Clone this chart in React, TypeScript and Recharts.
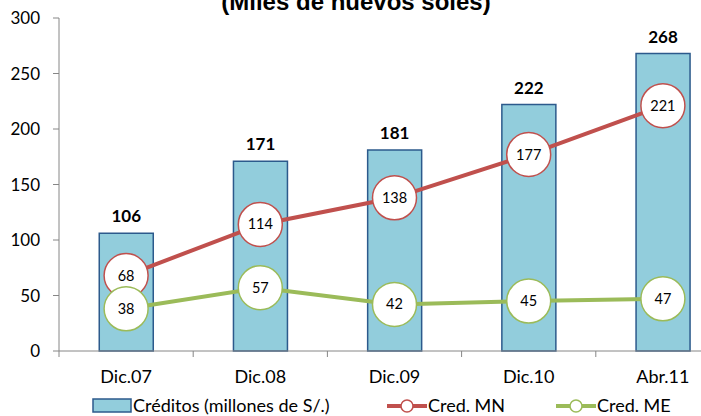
import { ComposedChart, Bar, Line, XAxis, YAxis, LabelList } from 'recharts'

const periods = ['Dic.07', 'Dic.08', 'Dic.09', 'Dic.10', 'Abr.11']
const creditos = [106, 171, 181, 222, 268]
const credMN = [68, 114, 138, 177, 221]
const credME = [38, 57, 42, 45, 47]
const yTicks = [0, 50, 100, 150, 200, 250, 300]

const data = periods.map((p, i) => ({
  period: p,
  creditos: creditos[i],
  mn: credMN[i],
  me: credME[i],
}))

const FONT = 'Lato, "Open Sans", sans-serif'
const RED = '#C0504D'
const GREEN = '#9BBB59'
const BAR_FILL = '#92CDDC'
const BAR_STROKE = '#2C5A8C'
const AXIS = '#868686'
const BAND = 134.2

function makeDot(color: string) {
  return (props: any) => {
    const { cx, cy, value, index } = props
    return (
      <g key={`d-${color}-${index}`}>
        <circle cx={cx} cy={cy} r={22} fill="#fff" stroke={color} strokeWidth={1.5} />
        <text x={cx} y={cy} dy={5} textAnchor="middle" fontSize={14.5} fontFamily={FONT} fill="#000">
          {value}
        </text>
      </g>
    )
  }
}

function CatTick({ x, y, payload, index }: any) {
  const half = BAND / 2
  return (
    <g>
      <line x1={x - half} y1={y - 8} x2={x - half} y2={y - 2} stroke={AXIS} />
      {index === periods.length - 1 && (
        <line x1={x + half} y1={y - 8} x2={x + half} y2={y - 2} stroke={AXIS} />
      )}
      <text x={x} y={y + 24} textAnchor="middle" fontSize={18} fontFamily={FONT} fill="#000">
        {payload.value}
      </text>
    </g>
  )
}

export default function App() {
  return (
    <div style={{ position: 'absolute', left: 0, top: 0, width: 701, height: 416, overflow: 'hidden', background: '#fff', fontFamily: FONT }}>
      <div style={{
        position: 'absolute', left: 0, width: 712, top: -10, textAlign: 'center', whiteSpace: 'nowrap',
        fontFamily: 'Arial, "Liberation Sans", sans-serif', fontWeight: 700, fontSize: 24, lineHeight: '24px',
      }}>
        (Miles de nuevos soles)
      </div>
      <ComposedChart
        width={740}
        height={416}
        data={data}
        margin={{ top: 18, right: 10, left: 0, bottom: 25 }}
        barCategoryGap="30%"
        style={{ position: 'absolute', left: 0, top: 0 }}
      >
        <YAxis
          domain={[0, 300]}
          ticks={yTicks}
          width={59}
          tick={{ fontSize: 17, fill: '#000', fontFamily: FONT }}
          stroke={AXIS}
          tickSize={6}
          tickMargin={13}
          interval={0}
        />
        <XAxis
          dataKey="period"
          height={40}
          stroke={AXIS}
          tickLine={false}
          tick={<CatTick />}
          interval={0}
        />
        <Bar dataKey="creditos" fill={BAR_FILL} stroke={BAR_STROKE} strokeWidth={1.5} isAnimationActive={false}>
          <LabelList dataKey="creditos" position="top" offset={11} fontSize={17} fontWeight={700} fill="#000" fontFamily={FONT} />
        </Bar>
        <Line dataKey="mn" stroke={RED} strokeWidth={4} dot={makeDot(RED)} activeDot={false} isAnimationActive={false} />
        <Line dataKey="me" stroke={GREEN} strokeWidth={4} dot={makeDot(GREEN)} activeDot={false} isAnimationActive={false} />
      </ComposedChart>
      <div style={{ position: 'absolute', top: 394, left: 0, width: 701, height: 22, fontSize: 18, lineHeight: '22px', color: '#000' }}>
        <svg width={40} height={16} style={{ position: 'absolute', left: 92, top: 4 }}>
          <rect x={1} y={1} width={38} height={13} fill={BAR_FILL} stroke={BAR_STROKE} strokeWidth={1.5} />
        </svg>
        <span style={{ position: 'absolute', left: 133, top: 0, whiteSpace: 'nowrap' }}>Créditos (millones de S/.)</span>
        <svg width={40} height={16} style={{ position: 'absolute', left: 387, top: 4 }}>
          <line x1={0} y1={8} x2={40} y2={8} stroke={RED} strokeWidth={4} />
          <circle cx={20} cy={8} r={6} fill="#fff" stroke={RED} strokeWidth={1.5} />
        </svg>
        <span style={{ position: 'absolute', left: 428, top: 0, whiteSpace: 'nowrap' }}>Cred. MN</span>
        <svg width={40} height={16} style={{ position: 'absolute', left: 556, top: 4 }}>
          <line x1={0} y1={8} x2={40} y2={8} stroke={GREEN} strokeWidth={4} />
          <circle cx={20} cy={8} r={6} fill="#fff" stroke={GREEN} strokeWidth={1.5} />
        </svg>
        <span style={{ position: 'absolute', left: 597, top: 0, whiteSpace: 'nowrap' }}>Cred. ME</span>
      </div>
    </div>
  )
}
